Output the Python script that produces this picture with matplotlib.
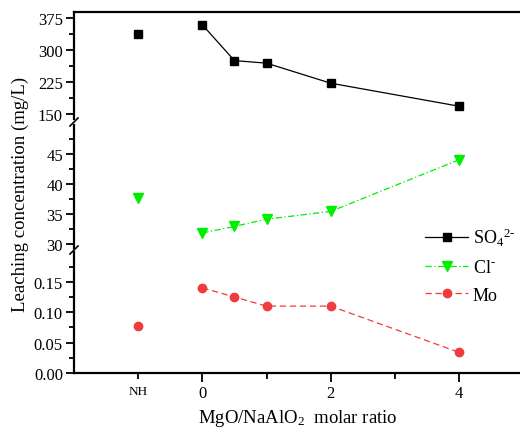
import matplotlib
matplotlib.use("Agg")
import matplotlib.pyplot as plt
from matplotlib.lines import Line2D
from matplotlib.ticker import MultipleLocator

plt.rcParams['font.family'] = ['Liberation Serif', 'DejaVu Serif']
plt.rcParams['mathtext.fontset'] = 'custom'
plt.rcParams['mathtext.rm'] = 'Liberation Serif'
plt.rcParams['mathtext.it'] = 'Liberation Serif:italic'

# data
ratio = [0, 0.5, 1, 2, 4]
nh_pos = -1
so4 = [359, 275, 269, 222, 168]
so4_nh = 337
cl = [31.8, 32.9, 34.1, 35.4, 44.0]
cl_nh = 37.7
mo = [0.140, 0.125, 0.110, 0.110, 0.034]
mo_nh = 0.077

W, H = 520, 435
fig = plt.figure(figsize=(W / 100, H / 100), dpi=100)

def box(top, bottom, left=74, right=520):
    return [left / W, 1 - bottom / H, (right - left) / W, (bottom - top) / H]

ax_top = fig.add_axes(box(13, 120))
ax_mid = fig.add_axes(box(126, 249))
ax_bot = fig.add_axes(box(253, 374))

green = '#00ee00'
red = '#f03c3c'

for ax in (ax_top, ax_mid, ax_bot):
    ax.set_xlim(-2, 4.95)
    ax.spines['right'].set_visible(False)
    for s in ax.spines.values():
        s.set_linewidth(1.6)
    ax.tick_params(axis='y', which='major', direction='out', length=6, width=1.3, labelsize=12, pad=2)
    ax.tick_params(axis='y', which='minor', direction='out', length=3.5, width=1.3)

for ax in (ax_top, ax_mid):
    ax.spines['bottom'].set_visible(False)
    ax.tick_params(axis='x', which='both', bottom=False, labelbottom=False)
ax_mid.spines['top'].set_visible(False)
ax_bot.spines['top'].set_visible(False)

# top panel: sulfate
ax_top.plot(ratio, so4, color='black', lw=0.9, marker='s', ms=5.5, label=r'SO$_4$$^{2\text{-}}$')
ax_top.plot([nh_pos], [so4_nh], color='black', ls='none', marker='s', ms=5.5)
ax_top.set_ylim(138, 389)
ax_top.yaxis.set_major_locator(MultipleLocator(75))
ax_top.yaxis.set_minor_locator(MultipleLocator(37.5))

# middle panel: chloride
ax_mid.plot(ratio, cl, color=green, lw=0.9, ls=(0, (5, 2, 1, 2)), marker='v', ms=6.5, label=r'Cl$^{\text{-}}$')
ax_mid.plot([nh_pos], [cl_nh], color=green, ls='none', marker='v', ms=6.5)
ax_mid.set_ylim(29.3, 49.8)
ax_mid.yaxis.set_major_locator(MultipleLocator(5))
ax_mid.yaxis.set_minor_locator(MultipleLocator(2.5))

# bottom panel: Mo
ax_bot.plot(ratio, mo, color=red, lw=0.9, ls=(0, (5, 3)), marker='o', ms=6, label='Mo')
ax_bot.plot([nh_pos], [mo_nh], color=red, ls='none', marker='o', ms=6)
ax_bot.set_ylim(0, 0.199)
ax_bot.yaxis.set_major_locator(MultipleLocator(0.05))
ax_bot.yaxis.set_minor_locator(MultipleLocator(0.025))
ax_bot.yaxis.set_major_formatter(lambda v, p: f'{v:.2f}')

ax_bot.set_xticks([0, 2, 4])
ax_bot.set_xticklabels(['0', '2', '4'])
ax_bot.set_xticks([nh_pos, 1, 3], minor=True)
ax_bot.set_xticklabels(['NH', '', ''], minor=True, fontsize=9.5)
ax_bot.tick_params(axis='x', which='major', direction='out', length=6.5, width=1.3, labelsize=12, pad=2)
ax_bot.tick_params(axis='x', which='minor', direction='out', length=4, width=1.3, pad=5)

# axis break marks on the left spine
for yb in (123, 251):
    fig.add_artist(Line2D([70 / W, 78 / W], [1 - (yb + 4) / H, 1 - (yb - 4) / H],
                          color='black', lw=1.2, transform=fig.transFigure))

fig.text(20 / W, 1 - 194 / H, 'Leaching concentration (mg/L)', rotation=90,
         ha='center', va='center', fontsize=13.5)
fig.text(298 / W, 1 - 419 / H, r'MgO/NaAlO$_2$  molar ratio', ha='center', va='center', fontsize=13.5)

handles = [ax_top.lines[0], ax_mid.lines[0], ax_bot.lines[0]]
fig.legend(handles=handles, labels=[h.get_label() for h in handles],
           loc='upper left', bbox_to_anchor=(416 / W, 1 - 218 / H), frameon=False,
           fontsize=13, handlelength=2.4, handletextpad=0.25, labelspacing=0.6, borderpad=0)

fig.savefig('out.png', dpi=100)
